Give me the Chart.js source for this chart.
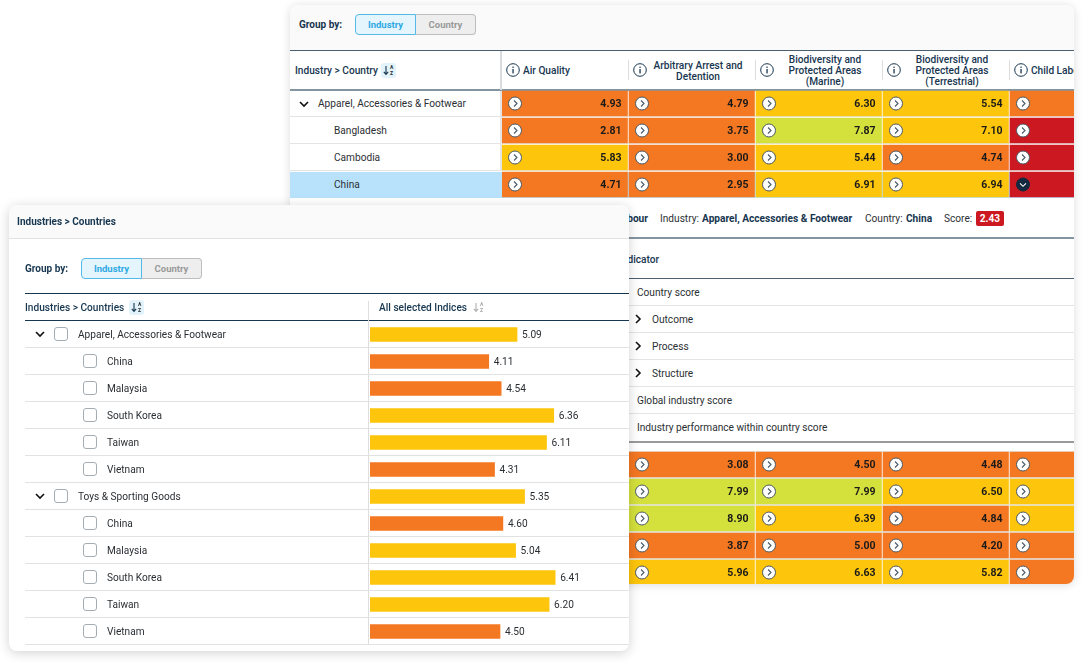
<!DOCTYPE html>
<html>
<head>
<meta charset="utf-8">
<title>Industries > Countries</title>
<script src="https://cdn.jsdelivr.net/npm/chart.js@4/dist/chart.umd.js"></script>
<style>
  html, body { margin: 0; padding: 0; background: #fff; width: 1083px; height: 663px; overflow: hidden; }
  body { font-family: Roboto, sans-serif; font-size: 10.15px; color: #2b2f33; }
  .panel { position: absolute; background: #fff; border-radius: 8px; overflow: hidden; }
  .abs { position: absolute; box-sizing: border-box; }
  .txt { position: absolute; white-space: nowrap; transform: translateY(-50%); line-height: 11px; }
  .navy { color: #17364f; }
  .b { font-weight: 700; }
  .mid { font-weight: 500; }
  canvas { position: absolute; display: block; }
  .toggle { font-weight: 700; font-size: 9.5px; display: flex; align-items: center; justify-content: center; }
  .on { background: #e4f5fe; border: 1px solid #55b9e8; border-radius: 4px 0 0 4px; color: #2ea9e2; }
  .off { background: #eeeeee; border: 1px solid #bdbdbd; border-left: 0; border-radius: 0 4px 4px 0; color: #9a9a9a; }
  .check { background: #fff; border: 1px solid #a3adb3; border-radius: 3px; }
  .sort { background: #e3f3fc; border-radius: 3px; }
  .sort span, .sortoff span { position: absolute; font-size: 5px; line-height: 5px; font-weight: 700; }
  .sortoff span { color: #a9a9a9; }
</style>
</head>
<body>
<script>
// back table
const metricHeaders = [
  ['Air Quality'],
  ['Arbitrary Arrest and', 'Detention'],
  ['Biodiversity and', 'Protected Areas', '(Marine)'],
  ['Biodiversity and', 'Protected Areas', '(Terrestrial)'],
  ['Child Labour']
];
const topRows = ['Apparel, Accessories & Footwear', 'Bangladesh', 'Cambodia', 'China'];
const airQualityTop = [4.93, 2.81, 5.83, 4.71];
const arbitraryTop = [4.79, 3.75, 3.00, 2.95];
const marineTop = [6.30, 7.87, 5.44, 6.91];
const terrestrialTop = [5.54, 7.10, 4.74, 6.94];
const childLabourTop = [4.20, 1.90, 2.10, 2.43];  // only China is readable, rest estimated from colour

const bottomRows = ['Row 1', 'Row 2', 'Row 3', 'Row 4', 'Row 5'];
const arbitraryBottom = [3.08, 7.99, 8.90, 3.87, 5.96];
const marineBottom = [4.50, 7.99, 6.39, 5.00, 6.63];
const terrestrialBottom = [4.48, 6.50, 4.84, 4.20, 5.82];
const childLabourBottom = [3.90, 6.00, 5.80, 4.10, 4.60];  // clipped in the picture, estimated from colour

const detailRows = ['Country score', 'Outcome', 'Process', 'Structure', 'Global industry score', 'Industry performance within country score'];

// front table
const treeLabels = ['Apparel, Accessories & Footwear', 'China', 'Malaysia', 'South Korea', 'Taiwan', 'Vietnam',
  'Toys & Sporting Goods', 'China', 'Malaysia', 'South Korea', 'Taiwan', 'Vietnam'];
const treeParents = [0, 6];
const allIndices = [5.09, 4.11, 4.54, 6.36, 6.11, 4.31, 5.35, 4.60, 5.04, 6.41, 6.20, 4.50];

function scoreColour(v) {
  if (v < 2.5) return '#cc1820';
  if (v <= 5) return '#f47721';
  if (v < 7.5) return '#fdc50b';
  return '#d4e03b';
}

function makePanel(x, y, w, h, shadow) {
  const p = document.createElement('div');
  p.className = 'panel';
  p.style.cssText = `left:${x}px;top:${y}px;width:${w}px;height:${h}px;box-shadow:${shadow}`;
  p.ox = x; p.oy = y;
  document.body.appendChild(p);
  return p;
}
function box(p, x, y, w, h, css, cls, html) {
  const d = document.createElement('div');
  d.className = 'abs ' + (cls || '');
  d.style.cssText = `left:${x - p.ox}px;top:${y - p.oy}px;width:${w}px;height:${h}px;${css || ''}`;
  if (html) d.innerHTML = html;
  p.appendChild(d);
  return d;
}
function text(p, x, cy, str, cls, css) {
  const d = document.createElement('div');
  d.className = 'txt ' + (cls || '');
  d.style.cssText = `left:${x - p.ox}px;top:${cy - p.oy}px;${css || ''}`;
  d.textContent = str;
  p.appendChild(d);
  return d;
}
function chevron(p, cx, cy, down) {
  const path = down ? 'M1 3 L5 7 L9 3' : 'M3 1 L7 5 L3 9';
  box(p, cx - 5, cy - 5, 10, 10, '', '', `<svg width="10" height="10"><path d="${path}" fill="none" stroke="#111" stroke-width="1.6"/></svg>`);
}
function infoIcon(p, cx, cy) {
  box(p, cx - 7, cy - 7, 14, 14, '', '', '<svg width="14" height="14"><circle cx="7" cy="7" r="6.3" fill="#fff" stroke="#17364f"/>' +
    '<rect x="6.4" y="6" width="1.3" height="4.4" fill="#17364f"/><rect x="6.4" y="3.6" width="1.3" height="1.3" fill="#17364f"/></svg>');
}
function sortIcon(p, x, y, active) {
  const stroke = active ? '#17364f' : '#b0b0b0';
  return box(p, x, y, 15, 15, '', active ? 'sort' : 'sortoff',
    `<svg width="8" height="15" style="position:absolute;left:1px;top:0"><path d="M4 3 V11 M1.8 8.8 L4 11.4 L6.2 8.8" fill="none" stroke="${stroke}" stroke-width="1.1"/></svg><span style="left:9px;top:2px">A</span><span style="left:9px;top:8px">Z</span>`);
}
function groupBy(p, x, y) {
  text(p, x, y + 10, 'Group by:', 'navy b', 'font-size:10px');
  box(p, x + 56, y, 61, 21, '', 'toggle on').textContent = 'Industry';
  box(p, x + 117, y, 60, 21, '', 'toggle off').textContent = 'Country';
}

// draws the value and the round button inside every heat cell
const cellDecor = {
  id: 'cellDecor',
  afterDatasetsDraw(chart) {
    const ctx = chart.ctx;
    chart.data.datasets.forEach((ds, c) => {
      chart.getDatasetMeta(c).data.forEach((el, r) => {
        const open = ds.openRow === r;
        const cx = el.base + 13, cy = el.y;
        ctx.save();
        ctx.beginPath();
        ctx.arc(cx, cy, 6.5, 0, Math.PI * 2);
        ctx.fillStyle = open ? '#12293f' : '#fff';
        ctx.fill();
        ctx.lineWidth = 1;
        ctx.strokeStyle = open ? '#12293f' : '#4a5a66';
        ctx.stroke();
        ctx.beginPath();
        if (open) { ctx.moveTo(cx - 3, cy - 1.2); ctx.lineTo(cx, cy + 1.8); ctx.lineTo(cx + 3, cy - 1.2); }
        else { ctx.moveTo(cx - 1, cy - 3); ctx.lineTo(cx + 2, cy); ctx.lineTo(cx - 1, cy + 3); }
        ctx.strokeStyle = open ? '#fff' : '#4a5a66';
        ctx.lineWidth = 1.1;
        ctx.stroke();
        if (ds.showValue) {
          ctx.font = '700 10.5px Roboto';
          ctx.fillStyle = '#1a1a1a';
          ctx.textAlign = 'right';
          ctx.textBaseline = 'middle';
          ctx.fillText(ds.scores[r].toFixed(2), el.x - 6, cy + 0.5);
        }
        ctx.restore();
      });
    });
  }
};

function heatChart(p, x, y, w, h, rows, columns, openRow) {
  const canvas = document.createElement('canvas');
  canvas.width = w; canvas.height = h;
  canvas.style.left = (x - p.ox) + 'px';
  canvas.style.top = (y - p.oy) + 'px';
  p.appendChild(canvas);
  new Chart(canvas, {
    type: 'bar',
    data: {
      labels: rows,
      datasets: columns.map((scores, c) => ({
        scores: scores,
        showValue: c < columns.length - 1,
        openRow: c === columns.length - 1 ? openRow : -1,
        data: scores.map(() => [c, c + 0.988]),
        backgroundColor: scores.map(scoreColour),
        barThickness: 25,
        grouped: false
      }))
    },
    options: {
      indexAxis: 'y', responsive: false, animation: false,
      events: [],
      layout: { padding: 0 },
      plugins: { legend: { display: false }, tooltip: { enabled: false } },
      scales: {
        x: { display: false, min: 0, max: w / 127 },
        y: { display: false }
      }
    },
    plugins: [cellDecor]
  });
}

// ---- back panel ----
const back = makePanel(290, 5, 784, 579, '0 1px 10px rgba(0,0,0,.14)');
box(back, 290, 5, 784, 45, 'background:#fafafa');
groupBy(back, 299, 14);
box(back, 290, 50, 784, 1, 'background:#4a6070');
box(back, 290, 89, 784, 2, 'background:#8595a0');
box(back, 500, 51, 2, 39, 'background:#d8dcdf');
text(back, 295, 70, 'Industry > Country', 'navy mid');
sortIcon(back, 381, 63, true);
metricHeaders.forEach((lines, i) => {
  const x = 502 + 127 * i;
  infoIcon(back, x + 11, 70);
  if (i) box(back, x - 1, 60, 1, 20, 'background:#dcdcdc');
  if (lines.length === 1) text(back, x + 21, 70, lines[0], 'navy mid');
  else lines.forEach((t, k) => {
    const cy = 70 + (k - (lines.length - 1) / 2) * 11;
    text(back, x + 69, cy, t, 'navy mid', 'transform:translate(-50%,-50%)');
  });
});
topRows.forEach((t, i) => {
  const y = 90 + 27 * i;
  if (i === 3) box(back, 290, y + 1, 784, 26, 'background:#b8e2fc');
  else box(back, 290, y + 26, 784, 1, 'background:#e4e4e4');
  if (i === 0) { chevron(back, 304, y + 13.5, true); text(back, 318, y + 13, t); }
  else text(back, 334, y + 13, t);
});
box(back, 500, 91, 2, 80, 'background:#e4e4e4');
heatChart(back, 502, 90, 572, 108, topRows, [airQualityTop, arbitraryTop, marineTop, terrestrialTop, childLabourTop], 3);

// detail strip
text(back, 648, 218, 'Child Labour', 'navy b', 'transform:translate(-100%,-50%)');
text(back, 660, 218, 'Industry:');
text(back, 702, 218, 'Apparel, Accessories & Footwear', 'navy b');
text(back, 865, 218, 'Country:');
text(back, 906, 218, 'China', 'navy b');
text(back, 944, 218, 'Score:');
const badge = box(back, 976, 211, 28, 15, 'background:#cc1820;color:#fff;border-radius:2px;text-align:center;line-height:15px;font-weight:700');
badge.textContent = '2.43';
box(back, 290, 237, 784, 2, 'background:#8595a0');
text(back, 619, 259, 'Indicator', 'navy mid');
box(back, 290, 278, 784, 1, 'background:#4a6070');
detailRows.forEach((t, i) => {
  const cy = 292 + 27 * i;
  if ([1, 2, 3].includes(i)) { chevron(back, 638, cy, false); text(back, 652, cy, t); }
  else text(back, 637, cy, t);
  if (i < 5) box(back, 290, cy + 13, 784, 1, 'background:#e4e4e4');
});
box(back, 290, 441, 784, 2, 'background:#9a9a9a');
box(back, 629, 451, 445, 1, 'background:#e6e6e6');
[477, 504, 531, 558].forEach(y => box(back, 629, y, 445, 2, 'background:#e6e6e6'));
heatChart(back, 629, 451, 445, 135, bottomRows, [arbitraryBottom, marineBottom, terrestrialBottom, childLabourBottom], -1);

// ---- front panel ----
const front = makePanel(9, 205, 620, 446, '0 2px 12px rgba(0,0,0,.18)');
box(front, 9, 205, 620, 34, 'background:#fafafa;border-bottom:1px solid #e2e2e2');
text(front, 17, 221, 'Industries > Countries', 'navy b', 'font-size:10px');
groupBy(front, 25, 258);
box(front, 25, 293, 604, 1, 'background:#17364f');
box(front, 25, 320, 604, 1, 'background:#17364f');
text(front, 25, 307, 'Industries > Countries', 'navy mid');
sortIcon(front, 129, 300, true);
text(front, 379, 307, 'All selected Indices', 'navy mid');
sortIcon(front, 471, 300, false);
box(front, 368, 301, 1, 344, 'background:#dedede');
treeLabels.forEach((t, i) => {
  const y = 321 + 27 * i, cy = y + 13;
  if (treeParents.includes(i)) {
    chevron(front, 40, cy, true);
    box(front, 54, cy - 7, 14, 14, '', 'check');
    text(front, 78, cy, t);
  } else {
    box(front, 83, cy - 7, 14, 14, '', 'check');
    text(front, 107, cy, t);
  }
  box(front, 25, y + 26, 604, 1, 'background:#e2e2e2');
});

const barCanvas = document.createElement('canvas');
barCanvas.width = 260; barCanvas.height = 324;
barCanvas.style.left = (370 - front.ox) + 'px';
barCanvas.style.top = (321 - front.oy) + 'px';
front.appendChild(barCanvas);

new Chart(barCanvas, {
  type: 'bar',
  data: {
    labels: treeLabels,
    datasets: [{
      data: allIndices,
      backgroundColor: allIndices.map(scoreColour),
      barThickness: 14
    }]
  },
  options: {
    indexAxis: 'y', responsive: false, animation: false,
    events: [],
    layout: { padding: 0 },
    plugins: { legend: { display: false }, tooltip: { enabled: false } },
    scales: {
      x: { display: false, min: 0, max: 9 },
      y: { display: false }
    }
  },
  plugins: [{
    id: 'barValues',
    afterDatasetsDraw(chart) {
      const ctx = chart.ctx;
      ctx.save();
      ctx.font = '10.15px Roboto';
      ctx.fillStyle = '#2b2f33';
      ctx.textBaseline = 'middle';
      chart.getDatasetMeta(0).data.forEach((el, i) => {
        ctx.fillText(allIndices[i].toFixed(2), el.x + 5, el.y + 0.5);
      });
      ctx.restore();
    }
  }]
});
</script>
</body>
</html>
